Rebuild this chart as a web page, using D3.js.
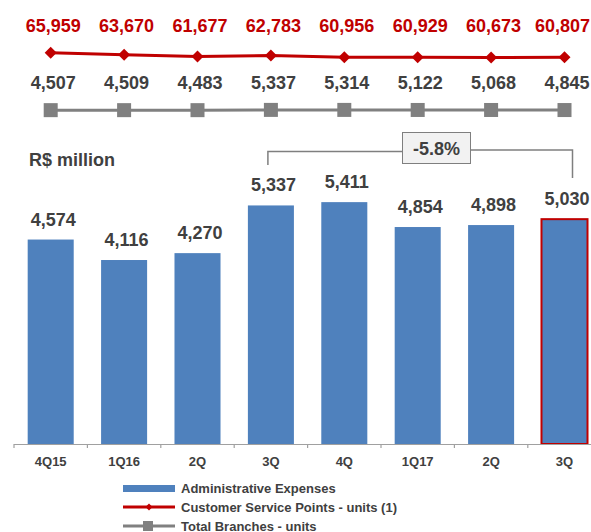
<!DOCTYPE html>
<html>
<head>
<meta charset="utf-8">
<script src="https://cdn.jsdelivr.net/npm/d3@7"></script>
<style>
  html, body { margin: 0; padding: 0; background: #fff; }
  svg { display: block; font-family: "Liberation Sans", Arial, sans-serif; }
</style>
</head>
<body>
<svg id="chart" width="591" height="532"></svg>
<script>
const categories = ["4Q15", "1Q16", "2Q", "3Q", "4Q", "1Q17", "2Q", "3Q"];
const adminExpenses = [4574, 4116, 4270, 5337, 5411, 4854, 4898, 5030];
const servicePoints = [65959, 63670, 61677, 62783, 60956, 60929, 60673, 60807];
const branches = [4507, 4509, 4483, 5337, 5314, 5122, 5068, 4845];
const changeLabel = "-5.8%";
const unitLabel = "R$ million";
const legendLabels = ["Administrative Expenses", "Customer Service Points - units (1)", "Total Branches - units"];

const svg = d3.select("#chart");
const fmt = d3.format(",");
const idx = d3.range(categories.length);
const W = 591;

const blue = "#4f81bd", red = "#c00000", gray = "#808080", text = "#404040";

const x = d3.scaleBand().domain(idx).range([14, 601.2]).paddingInner(0.373).paddingOuter(0.1865);
const cx = i => x(i) + x.bandwidth() / 2;
const y = d3.scaleLinear().domain([0, 10000]).range([444, -3]);
const yRed = d3.scaleLinear().domain([60000, 66000]).range([58, 52.8]);
const yGray = d3.scaleLinear().domain([4000, 6000]).range([110.3, 109.7]);

// Bars
svg.append("g").selectAll("rect").data(adminExpenses).join("rect")
  .attr("x", (d, i) => x(i))
  .attr("y", d => y(d))
  .attr("width", x.bandwidth())
  .attr("height", d => y(0) - y(d))
  .attr("fill", blue)
  .attr("stroke", (d, i) => i === adminExpenses.length - 1 ? red : "none")
  .attr("stroke-width", 2);

// Bar labels
svg.append("g").selectAll("text").data(adminExpenses).join("text")
  .attr("x", (d, i) => cx(i) + 2.5)
  .attr("y", d => y(d) - 14)
  .attr("text-anchor", "middle")
  .attr("font-size", 18).attr("font-weight", "bold").attr("fill", text)
  .text(d => fmt(d));

// X axis
const xAxis = d3.axisBottom(x).tickSize(0).tickPadding(13).tickFormat(i => categories[i]);
const ax = svg.append("g").attr("transform", "translate(0,444)").call(xAxis);
ax.select(".domain").remove();
ax.selectAll("text").attr("font-size", 13).attr("font-weight", "bold").attr("fill", text)
  .attr("font-family", "Liberation Sans, Arial, sans-serif");
ax.append("line").attr("x1", 14).attr("x2", W).attr("y1", 0.5).attr("y2", 0.5)
  .attr("stroke", "#a0a0a0").attr("stroke-width", 1.2);
ax.selectAll(".bt").data(d3.range(categories.length + 1)).join("line")
  .attr("class", "bt")
  .attr("x1", i => 14 + i * x.step()).attr("x2", i => 14 + i * x.step())
  .attr("y1", 0).attr("y2", 4).attr("stroke", "#a0a0a0").attr("stroke-width", 1.2);

// Red line (customer service points)
svg.append("path").datum(servicePoints)
  .attr("fill", "none").attr("stroke", red).attr("stroke-width", 3)
  .attr("d", d3.line().x((d, i) => cx(i)).y(d => yRed(d)));
const diamond = (px, py, r) => `M${px},${py - r}L${px + r},${py}L${px},${py + r}L${px - r},${py}Z`;
svg.append("g").selectAll("path").data(servicePoints).join("path")
  .attr("d", (d, i) => diamond(cx(i), yRed(d), 6)).attr("fill", red);
const redLabels = svg.append("g").selectAll("text").data(servicePoints).join("text")
  .attr("x", (d, i) => cx(i) + 2.5).attr("y", 31.5)
  .attr("text-anchor", "middle")
  .attr("font-size", 18).attr("font-weight", "bold").attr("fill", red)
  .text(d => fmt(d));
// keep labels inside the right edge
redLabels.each(function () {
  const b = this.getBBox();
  if (b.x + b.width > W - 1) {
    d3.select(this).attr("x", +d3.select(this).attr("x") - (b.x + b.width - (W - 1)));
  }
});

// Gray line (branches)
svg.append("path").datum(branches)
  .attr("fill", "none").attr("stroke", gray).attr("stroke-width", 3)
  .attr("d", d3.line().x((d, i) => cx(i)).y(d => yGray(d)));
svg.append("g").selectAll("rect").data(branches).join("rect")
  .attr("x", (d, i) => cx(i) - 7).attr("y", d => yGray(d) - 7)
  .attr("width", 14).attr("height", 14).attr("fill", gray);
svg.append("g").selectAll("text").data(branches).join("text")
  .attr("x", (d, i) => cx(i) + 2.5).attr("y", 88.5)
  .attr("text-anchor", "middle")
  .attr("font-size", 18).attr("font-weight", "bold").attr("fill", text)
  .text(d => fmt(d));

// Unit label
svg.append("text").attr("x", 29).attr("y", 166)
  .attr("font-size", 18).attr("font-weight", "bold").attr("fill", text)
  .text(unitLabel);

// Change bracket
const leftX = cx(3) - 3, rightX = cx(7) + 8;
svg.append("path").attr("fill", "none").attr("stroke", "#7f7f7f").attr("stroke-width", 1.5)
  .attr("d", `M${leftX},165V151.5H402`);
svg.append("path").attr("fill", "none").attr("stroke", "#7f7f7f").attr("stroke-width", 1.5)
  .attr("d", `M471,150H${rightX}V178`);
svg.append("rect").attr("x", 402.5).attr("y", 132.5).attr("width", 68).attr("height", 31)
  .attr("fill", "#f2f2f2").attr("stroke", "#7f7f7f").attr("stroke-width", 1);
svg.append("text").attr("x", 436.5).attr("y", 154.5).attr("text-anchor", "middle")
  .attr("font-size", 18).attr("font-weight", "bold").attr("fill", text)
  .text(changeLabel);

// Legend
const lg = svg.append("g");
lg.append("rect").attr("x", 123).attr("y", 485).attr("width", 52).attr("height", 7).attr("fill", blue);
lg.append("line").attr("x1", 123).attr("x2", 175).attr("y1", 507).attr("y2", 507)
  .attr("stroke", red).attr("stroke-width", 3);
lg.append("path").attr("d", diamond(149, 507, 3.5)).attr("fill", red);
lg.append("line").attr("x1", 123).attr("x2", 175).attr("y1", 526).attr("y2", 526)
  .attr("stroke", gray).attr("stroke-width", 3);
lg.append("rect").attr("x", 143).attr("y", 521).attr("width", 10).attr("height", 10).attr("fill", gray);
lg.selectAll("text").data(legendLabels).join("text")
  .attr("x", 181).attr("y", (d, i) => [492.5, 511.5, 530.5][i])
  .attr("font-size", 13).attr("font-weight", "bold").attr("fill", text)
  .text(d => d);
</script>
</body>
</html>
